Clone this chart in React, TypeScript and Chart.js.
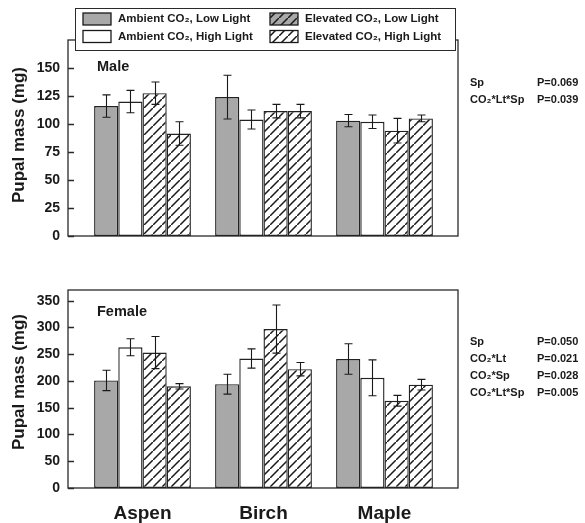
import React, { useEffect, useRef } from "react";
import { Chart, registerables } from "chart.js";

Chart.register(...registerables);

const FONT = "'Liberation Sans', Arial, Helvetica, sans-serif";
const INK = "#1a1a1a";
const GRAY = "#a8a8a8";

const categories = ["Aspen", "Birch", "Maple"];
const seriesNames = [
  "Ambient CO₂, Low Light",
  "Ambient CO₂, High Light",
  "Elevated CO₂, Low Light",
  "Elevated CO₂, High Light",
];
const yTitle = "Pupal mass (mg)";

// Male pupal mass (mg)
const maleAmbientLow = [116, 124, 103];
const maleAmbientHigh = [120, 104, 102];
const maleElevatedLow = [127.5, 111.5, 94];
const maleElevatedHigh = [91.5, 111.5, 105];
const maleErrAmbientLow = [10, 19.5, 5.5];
const maleErrAmbientHigh = [10, 8.5, 6];
const maleErrElevatedLow = [10, 6, 11];
const maleErrElevatedHigh = [10.5, 6, 3];

// Female pupal mass (mg)
const femaleAmbientLow = [201, 194, 241];
const femaleAmbientHigh = [263, 242, 206];
const femaleElevatedLow = [253, 297, 163];
const femaleElevatedHigh = [190, 222, 193];
const femaleErrAmbientLow = [19, 18.5, 28.5];
const femaleErrAmbientHigh = [16, 18, 33.5];
const femaleErrElevatedLow = [30, 45, 10];
const femaleErrElevatedHigh = [5, 12.5, 10];

const maleTicks = [0, 25, 50, 75, 100, 125, 150];
const femaleTicks = [0, 50, 100, 150, 200, 250, 300, 350];
const maleMax = 175;
const femaleMax = 370;

const maleStats = [
  ["Sp", "P=0.069"],
  ["CO₂*Lt*Sp", "P=0.039"],
];
const femaleStats = [
  ["Sp", "P=0.050"],
  ["CO₂*Lt", "P=0.021"],
  ["CO₂*Sp", "P=0.028"],
  ["CO₂*Lt*Sp", "P=0.005"],
];

function makeHatch(bg: string): CanvasPattern | string {
  const c = document.createElement("canvas");
  const s = 9;
  c.width = s;
  c.height = s;
  const g = c.getContext("2d");
  if (!g) return bg;
  g.fillStyle = bg;
  g.fillRect(0, 0, s, s);
  g.strokeStyle = "#1a1a1a";
  g.lineWidth = 1.5;
  g.beginPath();
  g.moveTo(-1, s + 1);
  g.lineTo(s + 1, -1);
  g.moveTo(-2, 1);
  g.lineTo(1, -2);
  g.moveTo(s - 1, s + 2);
  g.lineTo(s + 2, s - 1);
  g.stroke();
  const p = g.createPattern(c, "repeat");
  return p || bg;
}

type Panel = {
  label: string;
  values: number[][];
  errors: number[][];
  ticks: number[];
  max: number;
  stats: string[][];
  showLegend: boolean;
  showCategories: boolean;
  padTop: number;
  padBottom: number;
  xHeight: number;
  labelY: number;
  statsY: number;
  titleY: number;
};

function buildChart(canvas: HTMLCanvasElement, panel: Panel) {
  const hatchWhite = makeHatch("#ffffff");
  const hatchGray = makeHatch(GRAY);
  const fills = [GRAY, "#ffffff", hatchWhite, hatchWhite];
  const swatches = [GRAY, "#ffffff", hatchGray, hatchWhite];

  const datasets = panel.values.map((vals, i) => ({
    label: seriesNames[i],
    data: vals,
    errors: panel.errors[i],
    backgroundColor: fills[i],
    borderColor: "#222222",
    borderWidth: 1.4,
    borderSkipped: false,
    categoryPercentage: 0.8,
    barPercentage: 1.0,
  }));

  const framePlugin = {
    id: "frame",
    beforeDatasetsDraw(chart: any) {
      const { ctx, chartArea: a, scales } = chart;
      const y = scales.y;
      const L = a.left - 14;
      const R = a.right + 13;
      ctx.save();
      ctx.strokeStyle = "#2a2a2a";
      ctx.lineWidth = 1.3;
      ctx.strokeRect(L, a.top, R - L, a.bottom - a.top);
      ctx.beginPath();
      panel.ticks.forEach((v) => {
        const py = Math.round(y.getPixelForValue(v)) + 0.5;
        ctx.moveTo(L, py);
        ctx.lineTo(L + 6, py);
      });
      ctx.stroke();
      ctx.restore();
    },
  };

  const errorPlugin = {
    id: "errorbars",
    afterDatasetsDraw(chart: any) {
      const { ctx, scales } = chart;
      const y = scales.y;
      ctx.save();
      ctx.strokeStyle = "#1a1a1a";
      ctx.lineWidth = 1.1;
      chart.data.datasets.forEach((ds: any, i: number) => {
        const meta = chart.getDatasetMeta(i);
        meta.data.forEach((el: any, j: number) => {
          const v = ds.data[j];
          const e = ds.errors[j];
          const x = Math.round(el.x) + 0.5;
          const yt = y.getPixelForValue(v + e);
          const yb = y.getPixelForValue(v - e);
          ctx.beginPath();
          ctx.moveTo(x, yt);
          ctx.lineTo(x, yb);
          ctx.moveTo(x - 4, yt);
          ctx.lineTo(x + 4, yt);
          ctx.moveTo(x - 4, yb);
          ctx.lineTo(x + 4, yb);
          ctx.stroke();
        });
      });
      ctx.restore();
    },
  };

  const textPlugin = {
    id: "texts",
    afterDraw(chart: any) {
      const { ctx, chartArea: a } = chart;
      ctx.save();
      ctx.fillStyle = INK;
      ctx.textBaseline = "middle";
      ctx.textAlign = "left";
      // panel label
      ctx.font = `bold 14.5px ${FONT}`;
      ctx.fillText(panel.label, a.left + 15, panel.labelY);
      // y-axis title
      ctx.save();
      ctx.translate(19, panel.titleY);
      ctx.rotate(-Math.PI / 2);
      ctx.textAlign = "center";
      ctx.font = `bold 17px ${FONT}`;
      ctx.fillText(yTitle, 0, 0);
      ctx.restore();
      // stats
      ctx.font = `bold 11px ${FONT}`;
      panel.stats.forEach((row, k) => {
        const yy = panel.statsY + k * 17;
        ctx.fillText(row[0], 470, yy);
        ctx.fillText(row[1], 537, yy);
      });
      // legend
      if (panel.showLegend) {
        const bx = 75, by = 8, bw = 380, bh = 42;
        ctx.fillStyle = "#ffffff";
        ctx.fillRect(bx, by, bw, bh);
        ctx.strokeStyle = "#2a2a2a";
        ctx.lineWidth = 1;
        ctx.strokeRect(bx + 0.5, by + 0.5, bw, bh);
        const cols = [83, 270];
        const rows = [19, 36.5];
        ctx.font = `bold 11.5px ${FONT}`;
        seriesNames.forEach((name, i) => {
          const col = i < 2 ? 0 : 1;
          const row = i % 2;
          const sx = cols[col];
          const sy = rows[row] - 6;
          ctx.fillStyle = swatches[i] as any;
          ctx.fillRect(sx, sy, 28, 12);
          ctx.strokeStyle = "#1a1a1a";
          ctx.lineWidth = 1.3;
          ctx.strokeRect(sx, sy, 28, 12);
          ctx.fillStyle = INK;
          ctx.fillText(name, sx + 35, rows[row]);
        });
      }
      ctx.restore();
    },
  };

  return new Chart(canvas, {
    type: "bar",
    data: { labels: categories, datasets: datasets as any },
    options: {
      responsive: false,
      animation: false,
      devicePixelRatio: 1,
      layout: { padding: { top: panel.padTop, right: 140, left: 0, bottom: panel.padBottom } },
      plugins: {
        legend: { display: false },
        tooltip: { enabled: false },
      },
      scales: {
        x: {
          type: "category",
          display: panel.showCategories,
          grid: { display: false, drawTicks: false },
          border: { display: false },
          ticks: {
            display: panel.showCategories,
            color: INK,
            padding: 14,
            font: { family: FONT, size: 19, weight: "bold" },
          },
          afterFit(scale: any) {
            scale.height = panel.xHeight;
          },
        },
        y: {
          min: 0,
          max: panel.max,
          grid: { display: false, drawTicks: false },
          border: { display: false },
          afterBuildTicks(scale: any) {
            scale.ticks = panel.ticks.map((v) => ({ value: v }));
          },
          afterFit(scale: any) {
            scale.width = 82;
            scale.paddingTop = 0;
            scale.paddingBottom = 0;
          },
          ticks: {
            color: INK,
            padding: 22,
            font: { family: FONT, size: 14, weight: "bold" },
          },
          title: { display: false },
        },
      },
    },
    plugins: [framePlugin, errorPlugin, textPlugin],
  } as any);
}

export default function App() {
  const topRef = useRef<HTMLCanvasElement>(null);
  const botRef = useRef<HTMLCanvasElement>(null);

  useEffect(() => {
    const charts: Chart[] = [];
    if (topRef.current) {
      charts.push(
        buildChart(topRef.current, {
          label: "Male",
          values: [maleAmbientLow, maleAmbientHigh, maleElevatedLow, maleElevatedHigh],
          errors: [maleErrAmbientLow, maleErrAmbientHigh, maleErrElevatedLow, maleErrElevatedHigh],
          ticks: maleTicks,
          max: maleMax,
          stats: maleStats,
          showLegend: true,
          showCategories: false,
          padTop: 40,
          padBottom: 26,
          xHeight: 0,
          labelY: 67,
          statsY: 83,
          titleY: 135,
        })
      );
    }
    if (botRef.current) {
      charts.push(
        buildChart(botRef.current, {
          label: "Female",
          values: [femaleAmbientLow, femaleAmbientHigh, femaleElevatedLow, femaleElevatedHigh],
          errors: [femaleErrAmbientLow, femaleErrAmbientHigh, femaleErrElevatedLow, femaleErrElevatedHigh],
          ticks: femaleTicks,
          max: femaleMax,
          stats: femaleStats,
          showLegend: false,
          showCategories: true,
          padTop: 28,
          padBottom: 0,
          xHeight: 35,
          labelY: 50,
          statsY: 80,
          titleY: 120,
        })
      );
    }
    return () => charts.forEach((c) => c.destroy());
  }, []);

  return (
    <div style={{ position: "absolute", left: 0, top: 0, width: 585, height: 523, background: "#ffffff" }}>
      <canvas ref={topRef} width={585} height={262} style={{ position: "absolute", left: 0, top: 0, width: 585, height: 262 }} />
      <canvas ref={botRef} width={585} height={261} style={{ position: "absolute", left: 0, top: 262, width: 585, height: 261 }} />
    </div>
  );
}
